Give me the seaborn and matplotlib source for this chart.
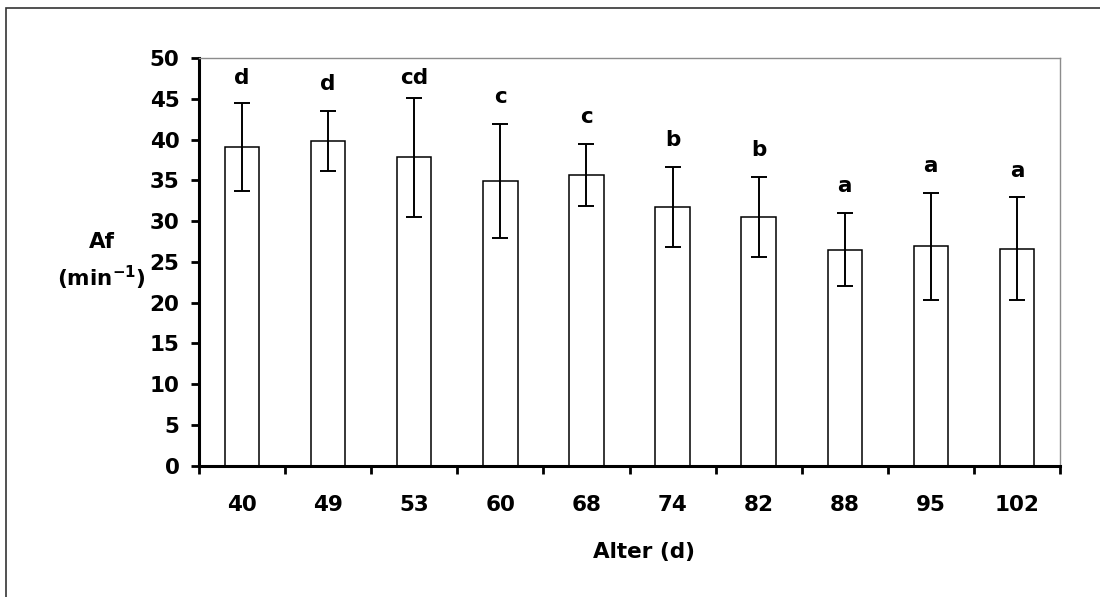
import matplotlib
matplotlib.use("Agg")
import matplotlib.pyplot as plt
from matplotlib.patches import Rectangle
from matplotlib.ticker import FixedLocator, MultipleLocator
import numpy as np
import pandas as pd
import seaborn as sns

# Age groups (days), mean values, standard deviations and significance letters
ages = ["40", "49", "53", "60", "68", "74", "82", "88", "95", "102"]
af_mean = [39.1, 39.8, 37.8, 34.9, 35.7, 31.7, 30.5, 26.5, 26.9, 26.6]
af_sd = [5.4, 3.7, 7.3, 7.0, 3.8, 4.9, 4.9, 4.5, 6.6, 6.3]
letters = ["d", "d", "cd", "c", "c", "b", "b", "a", "a", "a"]

sns.set_theme(style="white")
plt.rcParams["font.family"] = ["DejaVu Sans"]
plt.rcParams["font.weight"] = "bold"
plt.rcParams["mathtext.default"] = "bf"

FS = 15.5

df = pd.DataFrame({"Alter": ages, "Af": af_mean})

fig = plt.figure(figsize=(11, 5.97), dpi=100)
fig.patch.set_facecolor("white")

# outer frame around the chart
fig.patches.append(Rectangle((6 / 1100, -0.1), 1.2, 1.1 - 8 / 597,
                             transform=fig.transFigure, fill=False,
                             edgecolor="#333333", linewidth=1.2, zorder=0))

ax = fig.add_axes([199 / 1100, 1 - 465.7 / 597, 861 / 1100, 407.7 / 597])

sns.barplot(data=df, x="Alter", y="Af", order=ages, width=0.4,
            color="white", edgecolor="black", linewidth=1.1,
            errorbar=None, saturation=1, ax=ax)

xpos = np.arange(len(ages))
ax.errorbar(xpos, af_mean, yerr=af_sd, fmt="none", ecolor="black",
            elinewidth=1.4, capsize=5.8, capthick=1.4, zorder=3)

for x, m, s, lab in zip(xpos, af_mean, af_sd, letters):
    ax.text(x, min(m + s + 3.3, 47.6), lab, ha="center", va="center",
            fontsize=FS, fontweight="bold", color="black")

ax.set_ylim(0, 50)
ax.set_xlim(-0.5, len(ages) - 0.5)
ax.yaxis.set_major_locator(MultipleLocator(5))

# category boundary ticks on the x axis, labels centred under the bars
ax.xaxis.set_minor_locator(FixedLocator(np.arange(-0.5, len(ages), 1.0)))
ax.tick_params(axis="x", which="major", length=0, pad=21, labelsize=FS)
ax.tick_params(axis="x", which="minor", length=6, width=2, direction="out",
               bottom=True, color="black")
ax.tick_params(axis="y", which="major", length=6, width=2, direction="out",
               left=True, pad=8, labelsize=FS, color="black")
for lbl in ax.get_xticklabels() + ax.get_yticklabels():
    lbl.set_fontweight("bold")
    lbl.set_color("black")

for side in ("top", "right"):
    ax.spines[side].set_color("#8c8c8c")
    ax.spines[side].set_linewidth(1.0)
for side in ("left", "bottom"):
    ax.spines[side].set_color("black")
    ax.spines[side].set_linewidth(2.2)

ax.set_ylabel("")
ax.set_xlabel("Alter (d)", fontsize=FS, fontweight="bold", color="black")
ax.xaxis.set_label_coords(0.517, -0.212)
ax.xaxis.label.set_va("center")

ax.text(-0.113, 0.5, "Af\n(min$^{-1}$)", transform=ax.transAxes,
        ha="center", va="center", fontsize=FS, fontweight="bold",
        linespacing=1.55, color="black")

fig.savefig("out.png", dpi=100, facecolor="white")
